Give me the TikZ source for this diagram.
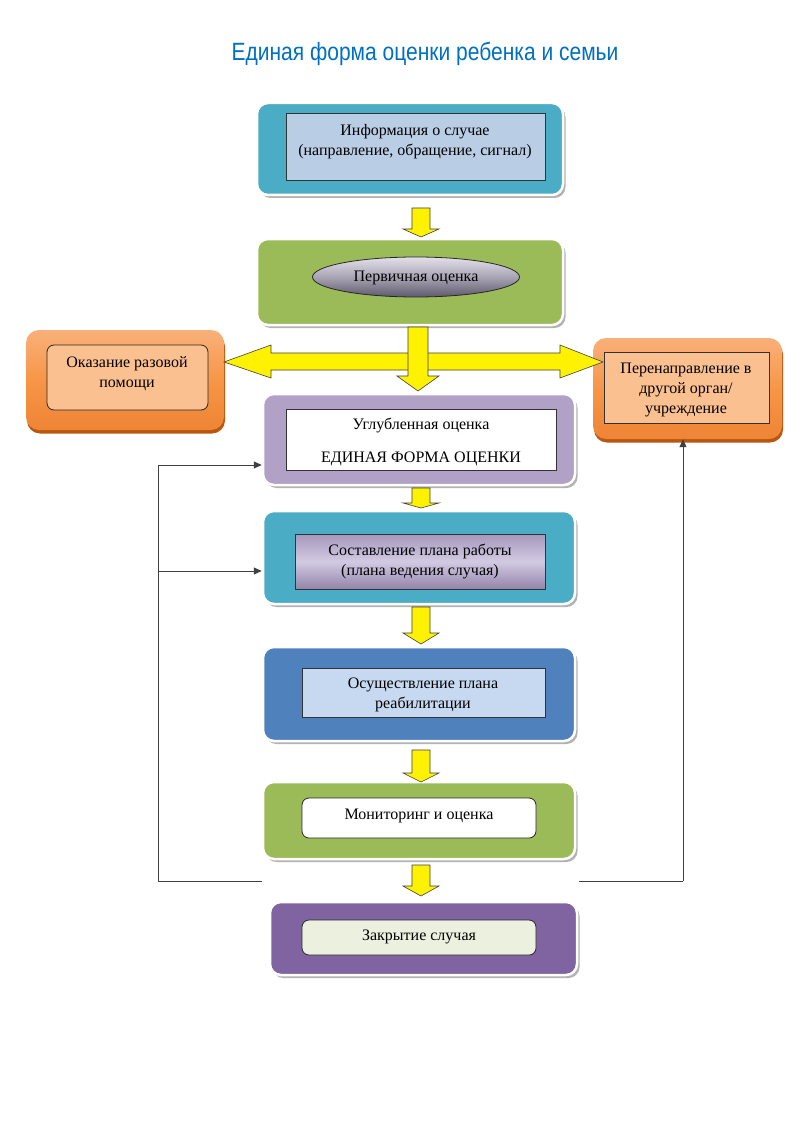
\documentclass[tikz,border=0pt]{standalone}
\usepackage{fontspec}
\setmainfont{Liberation Serif}
\newfontfamily\titlefont[FakeStretch=0.84]{Liberation Sans}
\usetikzlibrary{shadows,arrows.meta,shapes.geometric}
\definecolor{ttl}{HTML}{0070C0}
\definecolor{teal}{HTML}{4BACC6}
\definecolor{grn}{HTML}{9BBB59}
\definecolor{lav}{HTML}{B2A1C7}
\definecolor{blu}{HTML}{4F81BD}
\definecolor{vio}{HTML}{8064A2}
\definecolor{lblue}{HTML}{B9CDE5}
\definecolor{pblue}{HTML}{C6D9F1}
\definecolor{pgrn}{HTML}{EBF1DE}
\definecolor{orlt}{HTML}{FAC090}
\definecolor{ortop}{HTML}{F9B07A}
\definecolor{ormid}{HTML}{F79646}
\definecolor{orbot}{HTML}{EE8436}
\definecolor{orshd}{HTML}{B9570F}
\definecolor{eltop}{HTML}{E4E0EA}
\definecolor{elmid}{HTML}{A9A4B4}
\definecolor{elbot}{HTML}{5F5A6B}
\definecolor{pltop}{HTML}{A597BC}
\definecolor{plmid}{HTML}{D3CAE2}
\definecolor{plbot}{HTML}{9284A9}
\definecolor{linegray}{HTML}{404040}
\tikzset{
  outerbox/.style={rounded corners=11pt, draw=white, line width=2.5pt,
    drop shadow={shadow xshift=2.5pt, shadow yshift=-3pt, fill=black!30, opacity=1}},
  orbox/.style={rounded corners=13pt, draw=none,
    top color=ortop, bottom color=orbot, middle color=ormid,
    drop shadow={shadow xshift=1pt, shadow yshift=-3.5pt, fill=orshd, opacity=1}},
  innerrect/.style={draw=black!80, line width=0.8pt},
  innerround/.style={draw=black!85, line width=0.8pt, rounded corners=7pt},
  txt/.style={font=\fontsize{16}{20}\selectfont, align=center, inner sep=0pt},
  yarrow/.style={fill=yellow, draw=black!75, line width=0.6pt, line join=miter},
  fb/.style={draw=linegray, line width=0.9pt},
  fbtip/.style={-{Triangle[length=8pt,width=7pt]}, draw=linegray, line width=0.9pt}
}
\newcommand\YDown[4]{% x, ytop, yhead, ytip
  \draw[yarrow] (#1-9,#2) -- (#1+9,#2) -- (#1+9,#3) -- (#1+18,#3) -- (#1,#4)
    -- (#1-18,#3) -- (#1-9,#3) -- cycle;}
\begin{document}
\begin{tikzpicture}[x=1pt,y=-1pt]
\useasboundingbox (0,0) rectangle (794,1123);
\fill[white] (0,0) rectangle (794,1123);

\node[font=\titlefont\fontsize{25}{30}\selectfont, text=ttl] (title) at (425,54) {Единая форма оценки ребенка и семьи};

% boxes
\node[outerbox, fill=teal, minimum width=306pt, minimum height=92pt] (info) at (410,149) {};
\node[innerrect, fill=lblue, minimum width=259pt, minimum height=67pt] (infoin) at (415.5,146.5) {};
\node[txt] (infot) at (415,142) {Информация о случае\\(направление, обращение, сигнал)};

\node[outerbox, fill=grn, minimum width=306pt, minimum height=86pt] (prim) at (410,282) {};
\node[ellipse, draw=black!85, line width=0.8pt, minimum width=207pt, minimum height=40pt,
  top color=eltop, bottom color=elbot, middle color=elmid] (primin) at (416,277) {};
\node[txt] (primt) at (416,278) {Первичная оценка};

\node[orbox, minimum width=198pt, minimum height=100pt] (left) at (125,380) {};
\node[innerround, fill=orlt, minimum width=161pt, minimum height=65pt] (leftin) at (127.5,377.5) {};
\node[txt] (leftt) at (127,374) {Оказание разовой\\помощи};

\node[orbox, minimum width=189pt, minimum height=101pt] (right) at (687.5,388.5) {};
\node[innerrect, fill=orlt, minimum width=165pt, minimum height=71pt] (rightin) at (686.5,387.5) {};
\node[txt] (rightt) at (686,390) {Перенаправление в\\другой орган/\\учреждение};

\node[outerbox, fill=lav, minimum width=312pt, minimum height=91pt] (deep) at (419,439.5) {};
\node[innerrect, fill=white, minimum width=270pt, minimum height=61pt] (deepin) at (421,439.5) {};
\node[txt] (deept) at (421,442) {Углубленная оценка\\[13pt]ЕДИНАЯ ФОРМА ОЦЕНКИ};

\node[outerbox, fill=teal, minimum width=312pt, minimum height=93pt] (plan) at (419,557.5) {};
\node[innerrect, top color=pltop, bottom color=plbot, middle color=plmid,
  minimum width=250pt, minimum height=55pt] (planin) at (420,561.5) {};
\node[txt] (plant) at (420,561) {Составление плана работы\\(плана ведения случая)};

\node[outerbox, fill=blu, minimum width=312pt, minimum height=94pt] (impl) at (419,694) {};
\node[innerrect, fill=pblue, minimum width=243pt, minimum height=49pt] (implin) at (423.5,692.5) {};
\node[txt] (implt) at (423,695) {Осуществление плана\\реабилитации};

\node[outerbox, fill=grn, minimum width=312pt, minimum height=77pt] (mon) at (419,820.5) {};
\node[innerround, fill=white, minimum width=234pt, minimum height=40pt] (monin) at (419,818) {};
\node[txt] (mont) at (419,816) {Мониторинг и оценка};

\node[outerbox, fill=vio, minimum width=307pt, minimum height=73pt] (close) at (423.5,938.5) {};
\node[innerround, fill=pgrn, minimum width=234pt, minimum height=35pt] (closein) at (419,937.5) {};
\node[txt] (closet) at (419,937) {Закрытие случая};

% yellow arrows
\YDown{421}{208}{229}{237}
\YDown{421}{488}{503}{508}
\YDown{421}{607}{633}{644}
\YDown{421}{750}{773}{782}
\YDown{421}{865}{886}{896}

% cross arrows
\draw[yarrow] (224,362) -- (271,345) -- (271,353) -- (560,353) -- (560,345) -- (603,362)
  -- (560,378) -- (560,370) -- (271,370) -- (271,378) -- cycle;
\draw[yarrow] (408,327) -- (428,327) -- (428,376) -- (439,376) -- (418,391) -- (397,376) -- (408,376) -- cycle;

% feedback lines
\coordinate (fbL) at (158,881);
\coordinate (fbA) at (158,465);
\coordinate (fbB) at (158,571);
\coordinate (fbR) at (683,881);
\draw[fb] (262,881) -- (fbL) -- (fbA);
\draw[fbtip] (fbA) -- (deep.west |- fbA);
\draw[fbtip] (fbB) -- (plan.west |- fbB);
\draw[fb] (579,881) -- (fbR);
\draw[fbtip] (fbR) -- (fbR |- right.south);
\end{tikzpicture}
\end{document}
